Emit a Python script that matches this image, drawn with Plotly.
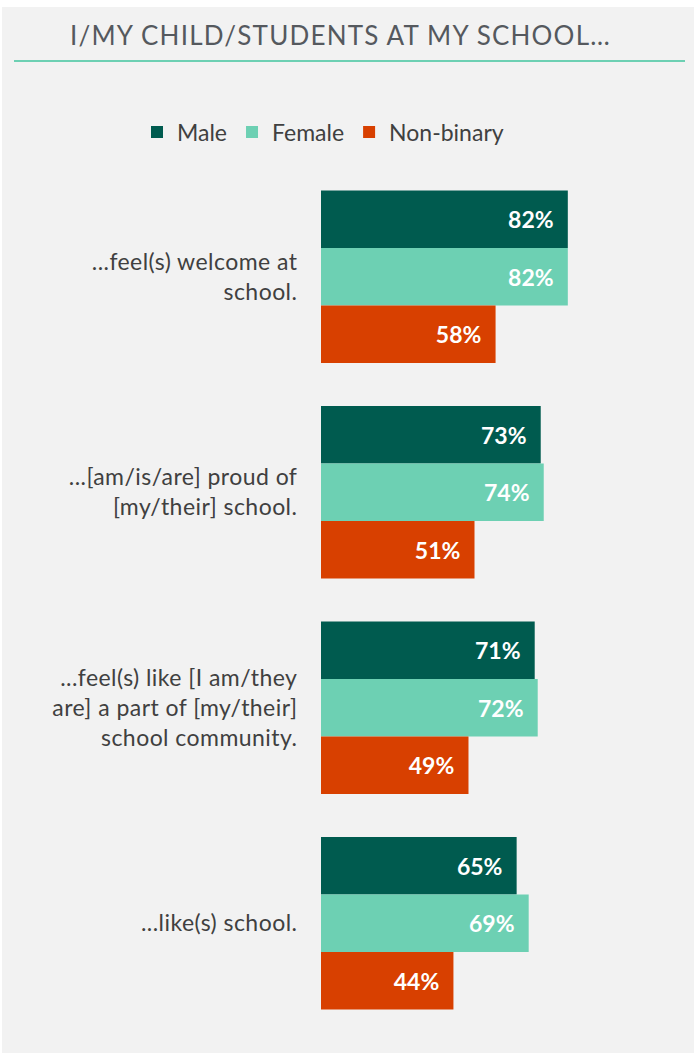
import plotly.graph_objects as go

# Survey statements (top to bottom) and share agreeing, by gender
statements = [
    "...feel(s) welcome at<br>school.",
    "...[am/is/are] proud of<br>[my/their] school.",
    "...feel(s) like [I am/they<br>are] a part of [my/their]<br>school community.",
    "...like(s) school.",
]
male = [82, 73, 71, 65]
female = [82, 74, 72, 69]
non_binary = [58, 51, 49, 44]

series_names = ["Male", "Female", "Non-binary"]
series_colors = ["#005b4f", "#6dd0b3", "#d84000"]

W, H = 694, 1053
M_L, M_R, M_T, M_B = 321, 72, 169, 22
PW, PH = W - M_L - M_R, H - M_T - M_B


def px_x(px):
    return (px - M_L) / PW


def px_y(py):
    return (H - M_B - py) / PH


def spaced(label, ls="0.45px"):
    # widen letter spacing line by line
    return "<br>".join(f'<span style="letter-spacing:{ls}">{ln}</span>'
                       for ln in label.split("<br>"))


fig = go.Figure()
for name, vals, col in zip(series_names, [male, female, non_binary], series_colors):
    fig.add_trace(go.Bar(
        name=name,
        y=statements,
        x=vals,
        orientation="h",
        marker=dict(color=col, line=dict(width=0)),
        text=[f"{v}%" + "\u00a0" * 2 for v in vals],
        textposition="inside",
        insidetextanchor="end",
        textangle=0,
        constraintext="none",
        insidetextfont=dict(family="Lato", size=23, color="white", weight="bold"),
        hoverinfo="skip",
    ))

shapes = [
    # panel background
    dict(type="rect", xref="paper", yref="paper",
         x0=px_x(2), x1=px_x(W + 2), y0=px_y(7), y1=px_y(H + 2),
         fillcolor="#f2f2f2", line=dict(width=0), layer="below"),
    # rule under the heading
    dict(type="line", xref="paper", yref="paper",
         x0=px_x(14), x1=px_x(685), y0=px_y(61), y1=px_y(61),
         line=dict(color="#6dd0b3", width=2)),
]

annotations = [
    dict(text='<span style="letter-spacing:1.2px">I/MY CHILD/STUDENTS AT MY SCHOOL\u2026</span>',
         xref="paper", yref="paper", x=px_x(340), y=px_y(35),
         xanchor="center", yanchor="middle", showarrow=False,
         font=dict(family="Lato", size=26, color="#55595e")),
]

fig.update_layout(
    width=W, height=H,
    margin=dict(l=M_L, r=M_R, t=M_T, b=M_B, pad=0, autoexpand=False),
    paper_bgcolor="white",
    plot_bgcolor="rgba(0,0,0,0)",
    barmode="group",
    bargap=0.2,
    bargroupgap=0,
    font=dict(family="Lato", color="#404040"),
    xaxis=dict(range=[0, 100], visible=False, fixedrange=True),
    yaxis=dict(
        autorange="reversed",
        showgrid=False, zeroline=False, showline=False,
        tickmode="array", tickvals=statements,
        ticktext=[spaced(s) for s in statements],
        ticks="outside", ticklen=18, tickcolor="rgba(0,0,0,0)",
        tickfont=dict(family="Lato", size=23, color="#404040"),
    ),
    legend=dict(
        orientation="h",
        x=px_x(137), y=px_y(132),
        xanchor="left", yanchor="middle",
        font=dict(family="Lato", size=23, color="#404040"),
        bgcolor="rgba(0,0,0,0)", traceorder="normal",
        itemclick=False, itemdoubleclick=False,
    ),
    shapes=shapes,
    annotations=annotations,
    showlegend=True,
)

fig.write_html("out.html")
